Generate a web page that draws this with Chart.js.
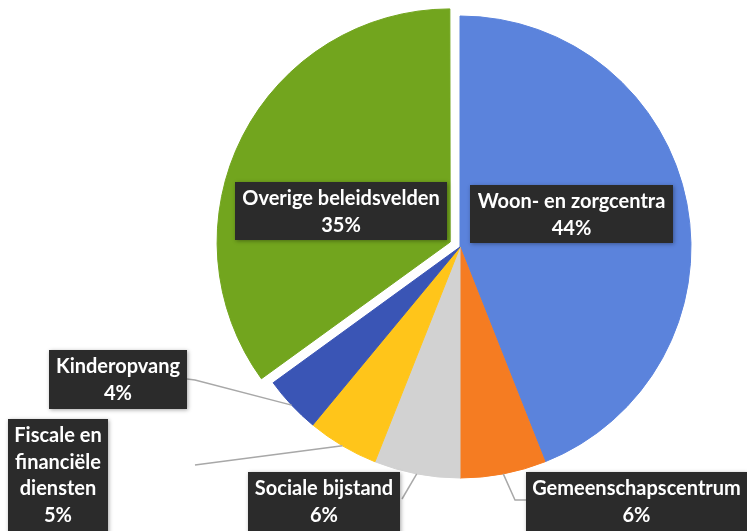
<!DOCTYPE html>
<html>
<head>
<meta charset="utf-8">
<script src="https://cdn.jsdelivr.net/npm/chart.js@4/dist/chart.umd.min.js"></script>
<style>
  html, body { margin: 0; padding: 0; background: #fff; }
  #wrap { width: 747px; height: 531px; }
</style>
</head>
<body>
<div id="wrap"><canvas id="pie" width="747" height="531"></canvas></div>
<script>
// --- Data ---
const categories = ['Woon- en zorgcentra', 'Gemeenschapscentrum', 'Sociale bijstand', 'Fiscale en financiële diensten', 'Kinderopvang', 'Overige beleidsvelden'];
const shares = [44, 6, 6, 5, 4, 35];

// --- Styles ---
const sliceColors = ['#5b83dc', '#f57c22', '#d2d2d2', '#ffc51a', '#3a55b5', '#72a51e'];
// Chart.js moves an arc by offset / 4 px, so 44 gives the ~11px explode
const sliceOffsets = [0, 0, 0, 0, 0, 44];

// label boxes (same order as categories), leader path after the slice edge point
const labelBoxes = [
    { x: 470, y: 185, w: 203, h: 58 },
    { x: 526, y: 472, w: 221, h: 70 },
    { x: 248, y: 472, w: 152, h: 70 },
    { x: 8, y: 419, w: 100, h: 130, wrap: true },
    { x: 49, y: 350, w: 138, h: 59 },
    { x: 235, y: 182, w: 212, h: 58 }
];
const leaderPaths = [null, [[515, 500], [526, 500]], [[402, 499]], [[195, 465]], [[195, 380], [187, 379]], null];

const FONT = 'bold 20px Lato';
const LINE_H = 26.5;

const wrapText = (ctx, text, maxW) => {
    const words = text.split(' ');
    const lines = [];
    let cur = '';
    words.forEach(w => {
        const test = cur ? cur + ' ' + w : w;
        if (cur && ctx.measureText(test).width > maxW) {
            lines.push(cur);
            cur = w;
        } else {
            cur = test;
        }
    });
    if (cur) lines.push(cur);
    return lines;
};

const calloutPlugin = {
    id: 'callouts',
    afterDatasetsDraw(chart) {
        const ctx = chart.ctx;
        const arcs = chart.getDatasetMeta(0).data;

        // leader lines
        ctx.save();
        ctx.strokeStyle = '#a8a8a8';
        ctx.lineWidth = 1.5;
        arcs.forEach((arc, i) => {
            const path = leaderPaths[i];
            if (!path) return;
            const p = arc.getProps(['x', 'y', 'startAngle', 'endAngle', 'outerRadius'], true);
            const mid = (p.startAngle + p.endAngle) / 2;
            ctx.beginPath();
            ctx.moveTo(p.x + Math.cos(mid) * p.outerRadius, p.y + Math.sin(mid) * p.outerRadius);
            path.forEach(pt => ctx.lineTo(pt[0], pt[1]));
            ctx.stroke();
        });
        ctx.restore();

        // boxes + text
        ctx.save();
        ctx.font = FONT;
        categories.forEach((name, i) => {
            const b = labelBoxes[i];
            ctx.save();
            ctx.shadowColor = 'rgba(0,0,0,0.35)';
            ctx.shadowBlur = 4;
            ctx.shadowOffsetX = 1;
            ctx.shadowOffsetY = 1;
            ctx.fillStyle = '#2b2b2b';
            ctx.fillRect(b.x, b.y, b.w, b.h);
            ctx.restore();

            const lines = b.wrap ? wrapText(ctx, name, b.w - 4) : [name];
            lines.push(shares[i] + '%');
            ctx.fillStyle = '#ffffff';
            ctx.textAlign = 'center';
            ctx.textBaseline = 'middle';
            lines.forEach((ln, k) => {
                ctx.fillText(ln, b.x + b.w / 2, b.y + 17 + k * LINE_H);
            });
        });
        ctx.restore();
    }
};

new Chart(document.getElementById('pie'), {
    type: 'pie',
    data: {
        labels: categories,
        datasets: [{
            data: shares,
            backgroundColor: sliceColors,
            borderColor: sliceColors,
            borderWidth: 1,
            offset: sliceOffsets
        }]
    },
    options: {
        responsive: false,
        animation: false,
        radius: 231,
        layout: { padding: { left: 200, right: 27, top: 0, bottom: 37 } },
        plugins: {
            legend: { display: false },
            tooltip: { enabled: false }
        }
    },
    plugins: [calloutPlugin]
});
</script>
</body>
</html>
